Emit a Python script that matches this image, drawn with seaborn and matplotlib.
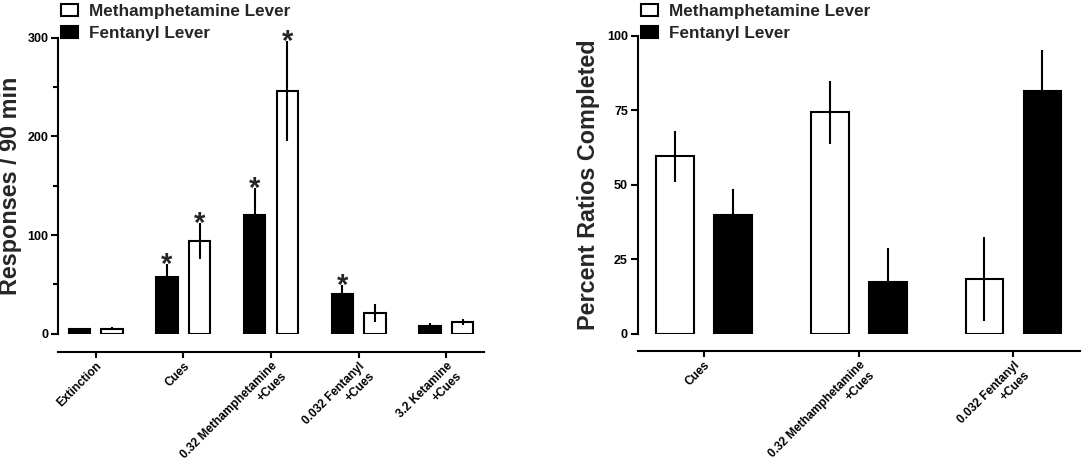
import numpy as np
import pandas as pd
import matplotlib
matplotlib.use("Agg")
import matplotlib.pyplot as plt
from matplotlib.patches import Patch
from matplotlib.ticker import MultipleLocator
import seaborn as sns

METH = "Methamphetamine Lever"
FENT = "Fentanyl Lever"

# left panel: responses / 90 min (mean, sem)
resp_conditions = ["Extinction", "Cues", "0.32 Methamphetamine\n+Cues",
                   "0.032 Fentanyl\n+Cues", "3.2 Ketamine\n+Cues"]
resp_fent = [4.5, 57, 120, 40, 8]
resp_fent_sem = [1.5, 14, 28, 9, 3]
resp_meth = [5, 94, 246, 21, 12]
resp_meth_sem = [1.5, 18, 51, 9, 3]
resp_fent_star = [False, True, True, True, False]
resp_meth_star = [False, True, True, False, False]

# right panel: percent ratios completed (mean, sem)
pct_conditions = ["Cues", "0.32 Methamphetamine\n+Cues", "0.032 Fentanyl\n+Cues"]
pct_meth = [59.5, 74.3, 18.3]
pct_meth_sem = [8.5, 10.5, 14.2]
pct_fent = [40, 17.5, 81.3]
pct_fent_sem = [8.7, 11.3, 14]
pct_meth_star = [False, False, False]
pct_fent_star = [False, False, False]

COLORS = {METH: "white", FENT: "black"}


def draw_panel(ax, conditions, series, hue_order, ymax, major, minor, ylabel,
               offset, legend_y):
    rows = []
    for lever, (vals, sems, stars) in series.items():
        for c, v in zip(conditions, vals):
            rows.append({"condition": c, "lever": lever, "value": v})
    df = pd.DataFrame(rows)

    sns.barplot(data=df, x="condition", y="value", hue="lever",
                order=conditions, hue_order=hue_order, palette=COLORS,
                width=0.75, gap=0.35, errorbar=None, edgecolor="black",
                linewidth=1.5, saturation=1, legend=False, ax=ax)

    # error bars (sem) and significance marks on each bar
    for p in ax.patches:
        cx = p.get_x() + p.get_width() / 2
        h = p.get_height()
        i = int(round(cx))
        lever = hue_order[0] if cx < i else hue_order[1]
        vals, sems, stars = series[lever]
        sem = sems[i]
        ax.errorbar(cx, h, yerr=sem, color="black", lw=1.5, capsize=0, zorder=5)
        if stars[i]:
            ax.annotate("*", xy=(cx, h + sem), xytext=(0, -6.5),
                        textcoords="offset points", ha="center", va="baseline",
                        fontsize=21, fontweight="bold", annotation_clip=False)

    # spine position first: moving a spine resets its ticks
    ax.spines[["top", "right"]].set_visible(False)
    for s in ("left", "bottom"):
        ax.spines[s].set_linewidth(1.5)
    ax.spines["bottom"].set_position(("outward", offset))

    ax.set_ylim(0, ymax)
    ax.set_xlim(-0.43, len(conditions) - 1 + 0.43)
    ax.yaxis.set_major_locator(MultipleLocator(major))
    if minor:
        ax.yaxis.set_minor_locator(MultipleLocator(minor))
    ax.tick_params(axis="y", which="major", length=5, width=1.5, labelsize=9, pad=2)
    ax.tick_params(axis="y", which="minor", length=3.5, width=1.5)
    ax.tick_params(axis="x", length=4, width=1.5, pad=2)
    ax.set_xticks(range(len(conditions)))
    ax.set_xticklabels(conditions, rotation=45, ha="right", va="top",
                       rotation_mode="anchor", multialignment="right",
                       fontsize=8.6, fontweight="bold")
    for t in ax.get_yticklabels():
        t.set_fontweight("bold")
    ax.set_xlabel("")
    ax.set_ylabel(ylabel, fontsize=16.8, fontweight="bold")
    ax.yaxis.set_label_coords(-0.085, 0.5)

    handles = [Patch(facecolor="white", edgecolor="black", lw=1.5),
               Patch(facecolor="black", edgecolor="black", lw=1.5)]
    ax.legend(handles, [METH, FENT], loc="upper left", frameon=False,
              bbox_to_anchor=(0.008, legend_y), borderaxespad=0, borderpad=0,
              handlelength=1.0, handleheight=0.7, handletextpad=0.6,
              labelspacing=0.45, prop={"weight": "bold", "size": 12.3})


def main():
    sns.set_style("ticks")
    plt.rcParams["font.family"] = ["Liberation Sans", "DejaVu Sans"]
    plt.rcParams["axes.edgecolor"] = "black"
    plt.rcParams["xtick.color"] = "black"
    plt.rcParams["ytick.color"] = "black"

    fig = plt.figure(figsize=(10.84, 4.7), dpi=100)
    ax_l = fig.add_axes([0.0535, 0.290, 0.393, 0.630])
    ax_r = fig.add_axes([0.5883, 0.290, 0.408, 0.634])

    draw_panel(ax_l, resp_conditions,
               {FENT: (resp_fent, resp_fent_sem, resp_fent_star),
                METH: (resp_meth, resp_meth_sem, resp_meth_star)},
               [FENT, METH], 300, 100, 50, "Responses / 90 min", 13, 1.115)
    draw_panel(ax_r, pct_conditions,
               {METH: (pct_meth, pct_meth_sem, pct_meth_star),
                FENT: (pct_fent, pct_fent_sem, pct_fent_star)},
               [METH, FENT], 100, 25, None, "Percent Ratios Completed", 12.2, 1.108)

    fig.savefig("out.png", dpi=100)
    plt.close(fig)


if __name__ == "__main__":
    main()
